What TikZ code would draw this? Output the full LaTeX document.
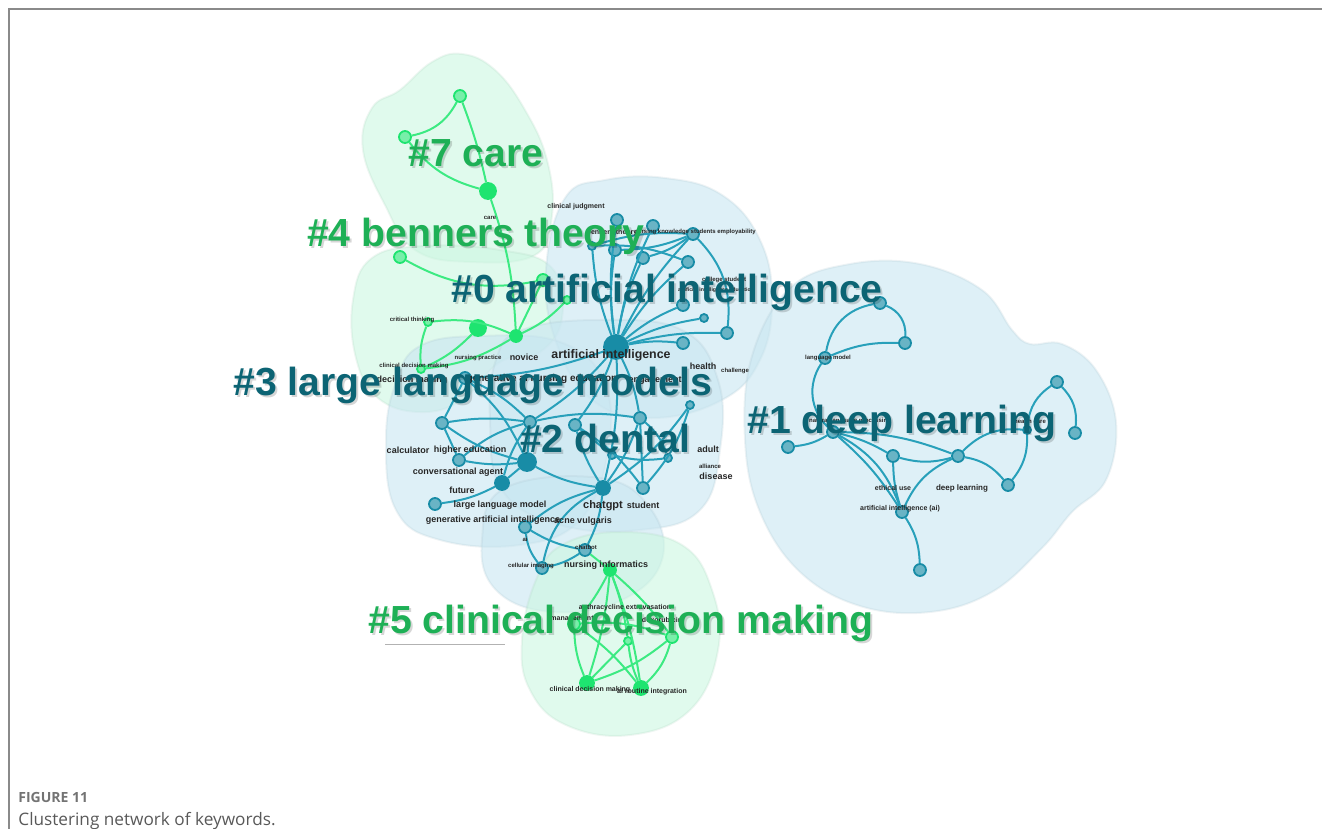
\documentclass[tikz,border=0pt]{standalone}
\usepackage{fontspec}
\setmainfont{Liberation Sans}
\newfontfamily\capfont{Open Sans}
\usetikzlibrary{positioning}

\definecolor{tealedge}{RGB}{40,160,186}
\definecolor{tealnode}{RGB}{24,140,166}
\definecolor{greenedge}{RGB}{60,234,130}
\definecolor{greennode}{RGB}{30,228,112}
\definecolor{tealtext}{RGB}{12,100,116}
\definecolor{greentext}{RGB}{30,176,86}
\definecolor{blueblob}{RGB}{200,230,241}
\definecolor{greenblob}{RGB}{204,247,225}
\definecolor{framegray}{RGB}{138,138,138}

\tikzset{
  blob/.style={fill=#1, fill opacity=0.6, draw=#1!85!black, draw opacity=0.2, line width=1pt},
  tn/.style={circle, draw=tealnode, fill=tealnode!65, line width=0.9pt, minimum size=6pt, inner sep=0pt},
  gn/.style={circle, draw=greennode, fill=greennode!60, line width=0.9pt, minimum size=6pt, inner sep=0pt},
  te/.style={draw=tealedge, line width=1pt},
  ge/.style={draw=greenedge, line width=1pt},
  kw/.style={font=\bfseries\fontsize{#1}{#1}\selectfont, text=black!85, inner sep=0pt},
  kw/.default=4.5,
  clab/.style={font=\bfseries\fontsize{19.6}{20}\selectfont, text=#1, inner sep=0pt},
  shade/.style={font=\bfseries\fontsize{19.6}{20}\selectfont, text=black, opacity=0.16, inner sep=0pt}
}

\begin{document}
\begin{tikzpicture}[x=0.5pt,y=-0.5pt]
\useasboundingbox (0,0) rectangle (1322,829);
% frame
\draw[framegray, line width=1pt] (9,829) -- (9,9) -- (1322,9);

% cluster areas
\path[blob=greenblob] plot[smooth cycle, tension=0.7] coordinates {(400,90) (432,62) (462,54) (495,70) (525,110) (547,160) (552,215) (535,255) (470,262) (415,250) (385,205) (363,150) (372,108)};
\path[blob=greenblob] plot[smooth cycle, tension=0.7] coordinates {(372,258) (425,246) (500,250) (552,268) (562,318) (540,352) (500,362) (462,400) (420,412) (378,398) (356,358) (353,300)};
\path[blob=blueblob] plot[smooth cycle, tension=0.7] coordinates {(565,198) (605,180) (665,178) (722,195) (760,240) (772,300) (760,360) (722,400) (652,418) (592,400) (556,342) (546,270)};
\path[blob=blueblob] plot[smooth cycle, tension=0.7] coordinates {(420,346) (480,336) (560,342) (604,382) (608,452) (580,520) (520,545) (440,540) (396,510) (386,440) (396,382)};
\path[blob=blueblob] plot[smooth cycle, tension=0.7] coordinates {(522,330) (600,320) (682,330) (718,380) (720,450) (700,510) (640,530) (560,525) (502,490) (490,420) (496,360)};
\path[blob=blueblob] plot[smooth cycle, tension=0.7] coordinates {(505,488) (600,478) (650,508) (662,560) (622,600) (552,612) (496,590) (482,540)};
\path[blob=blueblob] plot[smooth cycle, tension=0.65] coordinates {(790,288) (850,264) (920,264) (982,290) (1012,330) (1030,344) (1062,344) (1096,370) (1116,422) (1106,480) (1072,512) (1042,548) (992,592) (930,612) (860,606) (800,572) (760,512) (745,440) (752,356)};
\path[blob=greenblob] plot[smooth cycle, tension=0.7] coordinates {(562,545) (620,532) (682,545) (712,590) (718,650) (690,710) (630,735) (566,725) (530,690) (522,640) (536,580)};
\draw[black!30, line width=0.4pt] (385,644) -- (505,644);

% nodes of #7 and #4
\node[gn] (c7a) at (460,96) {};
\node[gn] (c7b) at (405,137) {};
\node[gn, fill=greennode, minimum size=8pt] (c7c) at (488,191) {};
\node[gn] (b4a) at (400,257) {};
\node[gn, fill=greennode, minimum size=8pt] (b4b) at (478,328) {};
\node[gn, fill=greennode] (b4c) at (516,336) {};
\node[gn, minimum size=4pt] (b4d) at (428,322) {};
\node[gn, minimum size=4pt] (b4e) at (421,369) {};
\node[gn] (b4f) at (543,280) {};
\node[gn, minimum size=4pt] (b4g) at (567,300) {};

% nodes of #0
\node[tn, fill=tealnode, minimum size=12pt] (a0) at (616,347) {};
\node[tn] (a1) at (617,220) {};
\node[tn] (a2) at (653,226) {};
\node[tn] (a3) at (693,234) {};
\node[tn, minimum size=4pt] (a4) at (592,246) {};
\node[tn] (a5) at (615,250) {};
\node[tn] (a6) at (643,258) {};
\node[tn] (a7) at (688,262) {};
\node[tn] (a8) at (683,305) {};
\node[tn] (a9) at (727,333) {};
\node[tn] (a10) at (683,343) {};
\node[tn, minimum size=4pt] (a11) at (704,318) {};

% nodes of #3 and #2
\node[tn] (c1) at (465,378) {};
\node[tn] (c2) at (442,423) {};
\node[tn] (c3) at (530,422) {};
\node[tn] (c4) at (459,460) {};
\node[tn, fill=tealnode, minimum size=9pt] (c5) at (527,462) {};
\node[tn, fill=tealnode, minimum size=7pt] (c6) at (502,483) {};
\node[tn] (c7) at (435,504) {};
\node[tn, fill=tealnode, minimum size=7pt] (d1) at (603,488) {};
\node[tn] (d2) at (643,488) {};
\node[tn] (d3) at (585,550) {};
\node[tn] (d4) at (525,527) {};
\node[tn] (d5) at (542,568) {};
\node[tn] (d6) at (575,425) {};
\node[tn] (d7) at (640,418) {};
\node[tn, minimum size=4pt] (d8) at (690,405) {};
\node[tn, minimum size=4pt] (d9) at (612,455) {};
\node[tn, minimum size=4pt] (d10) at (668,458) {};

% nodes of #5
\node[gn, fill=greennode] (m1) at (610,570) {};
\node[gn] (m2) at (574,624) {};
\node[gn] (m3) at (672,637) {};
\node[gn, minimum size=4pt] (m4) at (628,641) {};
\node[gn, fill=greennode, minimum size=7pt] (m5) at (587,683) {};
\node[gn, fill=greennode, minimum size=7pt] (m6) at (641,688) {};

% nodes of #1
\node[tn] (n1) at (880,303) {};
\node[tn] (n2) at (905,343) {};
\node[tn] (n3) at (825,358) {};
\node[tn] (n4) at (833,432) {};
\node[tn] (n5) at (788,447) {};
\node[tn] (n6) at (893,456) {};
\node[tn] (n7) at (958,456) {};
\node[tn] (n8) at (1008,485) {};
\node[tn] (n9) at (902,512) {};
\node[tn] (n10) at (920,570) {};
\node[tn] (n11) at (1057,382) {};
\node[tn] (n12) at (1075,433) {};
\node[tn, minimum size=4pt] (n13) at (1027,430) {};

% links
\draw[ge] (c7a) to[bend left=25] (c7b);
\draw[ge] (c7b) to[bend right=18] (c7c);
\draw[ge] (c7a) to[bend left=4] (c7c);
\draw[ge] (c7c) to[bend left=8] (b4c);
\draw[ge] (b4a) to[bend right=20] (b4f);
\draw[ge] (b4c) -- (b4f);
\draw[ge] (b4c) to[bend right=10] (b4g);
\draw[ge] (b4d) to[bend left=15] (b4c);
\draw[ge] (b4b) to[bend left=10] (b4e);
\draw[ge] (b4d) to[bend right=12] (b4e);
\draw[ge] (b4e) to[bend right=12] (b4c);

\foreach \k in {a1,a2,a3,a4,a5,a6,a7,a8,a9,a10,a11,c1,c3,d6,d7,d1}
  \draw[te] (a0) to[bend left=8] (\k);
\draw[te] (a3) to[bend right=10] (a4);
\draw[te] (a3) to[bend left=10] (a6);
\draw[te] (a3) to[bend left=25] (a9);
\draw[te] (a4) to[bend left=12] (a7);
\draw[te] (a5) to[bend right=10] (a3);

\draw[te] (c1) -- (c2);
\draw[te] (c1) to[bend left=10] (c3);
\draw[te] (c2) to[bend left=8] (c3);
\draw[te] (c2) -- (c4);
\draw[te] (c2) to[bend right=10] (c5);
\draw[te] (c3) -- (c5);
\draw[te] (c3) to[bend right=12] (c4);
\draw[te] (c4) to[bend right=8] (c5);
\draw[te] (c5) -- (c6);
\draw[te] (c6) to[bend left=10] (c7);
\draw[te] (c3) to[bend right=10] (c6);
\draw[te] (c1) to[bend left=12] (c5);
\draw[te] (c5) to[bend right=10] (d1);
\draw[te] (d6) to[bend right=8] (d1);
\draw[te] (d7) to[bend left=8] (d1);
\draw[te] (d6) to[bend left=10] (d2);
\draw[te] (d7) -- (d2);
\draw[te] (d8) to[bend left=10] (d1);
\draw[te] (d8) to[bend left=12] (d2);
\draw[te] (d6) -- (d9);
\draw[te] (d9) to[bend right=10] (d10);
\draw[te] (d7) to[bend left=15] (d10);
\draw[te] (c3) to[bend left=10] (d7);
\draw[te] (d1) to[bend right=12] (d4);
\draw[te] (d1) to[bend left=10] (d3);
\draw[te] (d4) to[bend right=10] (d3);
\draw[te] (d4) to[bend right=15] (d5);
\draw[te] (d3) to[bend left=10] (d5);
\draw[te] (d1) to[bend right=25] (d5);

\draw[ge] (d3) -- (m1);
\foreach \k in {m2,m3,m4,m5,m6}
  \draw[ge] (m1) to[bend left=6] (\k);
\draw[ge] (m2) to[bend right=10] (m5);
\draw[ge] (m2) to[bend left=8] (m6);
\draw[ge] (m3) to[bend left=10] (m5);
\draw[ge] (m3) to[bend left=15] (m6);
\draw[ge] (m4) -- (m5);
\draw[ge] (m4) to[bend right=8] (m6);
\draw[ge] (m2) to[bend left=12] (m3);

\draw[te] (n1) to[bend left=35] (n2);
\draw[te] (n1) to[bend right=35] (n3);
\draw[te] (n3) to[bend left=12] (n2);
\draw[te] (n3) to[bend right=40] (n4);
\draw[te] (n4) to[bend left=12] (n5);
\draw[te] (n4) to[bend left=8] (n6);
\draw[te] (n4) to[bend left=10] (n7);
\draw[te] (n4) to[bend left=20] (n9);
\draw[te] (n4) to[bend left=8] (n9);
\draw[te] (n6) to[bend right=15] (n7);
\draw[te] (n6) to[bend right=8] (n9);
\draw[te] (n7) to[bend right=20] (n9);
\draw[te] (n7) to[bend left=20] (n8);
\draw[te] (n8) to[bend right=20] (n13);
\draw[te] (n7) to[bend left=25] (n13);
\draw[te] (n13) to[bend left=25] (n11);
\draw[te] (n11) to[bend left=25] (n12);
\draw[te] (n9) to[bend left=15] (n10);

% keyword labels
\node[kw=3] (kwCare) at (490,218) {care};
\node[kw=3.5] (kwJudg) at (576,207) {clinical judgment};
\node[kw=3.5] (kwBen) at (612,233) {benners theory};
\node[kw=3] (kwEmp) at (695,232) {nursing knowledge students employability};
\node[kw=3] (kwColl) at (724,280) {college student};
\node[kw=2.6] (kwAIE) at (716,290) {artificial intelligence education};
\node[kw=3] (kwCrit) at (412,320) {critical thinking};
\node[kw=3] (kwCdm) at (414,366) {clinical decision making};
\node[kw=3] (kwPrac) at (478,358) {nursing practice};
\node[kw=4.5] (kwNov) at (524,357) {novice};
\node[kw=6.2] (kwAI) at (611,355) {artificial intelligence};
\node[kw=4.5] (kwDm) at (412,380) {decision making};
\node[kw=5] (kwGen) at (542,379) {generative ai nursing education};
\node[kw=4.5] (kwEng) at (655,381) {engagement};
\node[kw=4.5] (kwHea) at (703,366) {health};
\node[kw=3] (kwCha) at (735,371) {challenge};
\node[kw=4.5] (kwAdu) at (708,449) {adult};
\node[kw=3] (kwAll) at (710,466) {alliance};
\node[kw=4.5] (kwDis) at (716,476) {disease};
\node[kw=4.5] (kwCalc) at (408,450) {calculator};
\node[kw=4.5] (kwHigh) at (470,450) {higher education};
\node[kw=4.5] (kwConv) at (458,472) {conversational agent};
\node[kw=4.5] (kwFut) at (462,490) {future};
\node[kw=4.5] (kwLlm) at (500,505) {large language model};
\node[kw=4.5] (kwGai) at (493,520) {generative artificial intelligence};
\node[kw=3] (kwAi) at (525,539) {ai};
\node[kw=5.5] (kwGpt) at (603,506) {chatgpt};
\node[kw=4.5] (kwStu) at (643,505) {student};
\node[kw=4.5] (kwAcne) at (583,521) {acne vulgaris};
\node[kw=3] (kwBot) at (586,547) {chatbot};
\node[kw=3] (kwCell) at (531,566) {cellular imaging};
\node[kw=4.5] (kwNi) at (606,565) {nursing informatics};
\node[kw=3.5] (kwAnth) at (625,608) {anthracycline extravasation};
\node[kw=3.5] (kwMan) at (572,619) {management};
\node[kw=3.5] (kwDox) at (662,620) {doxorubicin};
\node[kw=3.5] (kwCdm5) at (590,690) {clinical decision making};
\node[kw=3.5] (kwRout) at (652,692) {ai routine integration};
\node[kw=3] (kwLm) at (828,358) {language model};
\node[kw=3] (kwNlp) at (850,421) {natural language processing};
\node[kw=3.5] (kwEth) at (893,488) {ethical use};
\node[kw=4] (kwDl) at (962,488) {deep learning};
\node[kw=3.5] (kwAiai) at (900,509) {artificial intelligence (ai)};
\node[kw=3] (kwHc) at (1030,421) {health care};

% cluster labels, each with its soft shadow
\foreach \name/\x/\y/\col/\txt in {
    lab7/476/153/greentext/{\#7 care},
    lab4/476/236/greentext/{\#4 benners theory},
    lab0/667/292/tealtext/{\#0 artificial intelligence},
    lab3/473/385/tealtext/{\#3 large language models},
    lab2/605/438/tealtext/{\#2 dental},
    lab1/902/423/tealtext/{\#1 deep learning},
    lab5/621/623/greentext/{\#5 clinical decision making}} {
  \node[shade] (\name s) at (\x+2,\y+2) {\txt};
  \node[clab=\col] (\name) at (\x,\y) {\txt};
}

% caption
\node[anchor=west, inner sep=0pt, font=\capfont\fontsize{7}{7}\selectfont\bfseries, text=black!55] (fig) at (18,797) {FIGURE 11};
\node[anchor=west, inner sep=0pt, font=\capfont\fontsize{8.6}{9}\selectfont, text=black!65] (cap) at (18,821) {Clustering network of keywords.};
\end{tikzpicture}
\end{document}
